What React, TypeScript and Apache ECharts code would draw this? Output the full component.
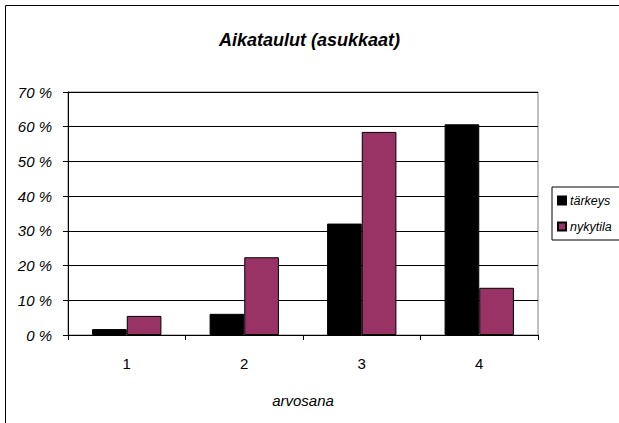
import React, { useEffect, useRef } from "react";
import * as echarts from "echarts";

const title = "Aikataulut (asukkaat)";
const categories = ["1", "2", "3", "4"];
const tarkeys = [1.7, 6.1, 32.1, 60.7];
const nykytila = [5.5, 22.4, 58.5, 13.6];
const seriesNames = ["tärkeys", "nykytila"];
const xName = "arvosana";

const FONT = '"Liberation Sans", Arial, sans-serif';

export default function App() {
  const ref = useRef<HTMLDivElement>(null);
  useEffect(() => {
    if (!ref.current) return;
    const chart = echarts.init(ref.current, null, { renderer: "svg" });
    chart.setOption({
      animation: false,
      backgroundColor: "#ffffff",
      textStyle: { fontFamily: FONT },
      title: {
        text: title,
        left: "center",
        top: 26,
        textStyle: { fontFamily: FONT, fontSize: 18, fontWeight: "bold", fontStyle: "italic", color: "#000" },
      },
      graphic: [
        {
          type: "rect",
          shape: { x: 5.5, y: 5.5, width: 700, height: 600 },
          style: { fill: "none", stroke: "#000", lineWidth: 1 },
          silent: true,
          z: -1,
        },
      ],
      legend: {
        orient: "vertical",
        left: 552,
        top: 187,
        padding: [7, 20, 7, 5],
        borderColor: "#000",
        borderWidth: 1,
        itemWidth: 8,
        itemHeight: 8,
        itemGap: 13,
        icon: "rect",
        textStyle: { fontFamily: FONT, fontSize: 12.5, fontStyle: "italic", color: "#000", padding: [0, 0, 0, -1] },
        data: seriesNames,
      },
      grid: {
        left: 68,
        top: 92,
        right: 81,
        bottom: 88,
        show: true,
        borderColor: "#808080",
        borderWidth: 1,
      },
      xAxis: {
        type: "category",
        data: categories,
        boundaryGap: true,
        name: xName,
        nameLocation: "middle",
        nameGap: 58,
        nameTextStyle: { fontFamily: FONT, fontSize: 15, fontStyle: "italic", color: "#000" },
        axisLine: { show: true, lineStyle: { color: "#000", width: 1 } },
        axisTick: { show: true, length: 5, alignWithLabel: false, lineStyle: { color: "#000" } },
        axisLabel: { fontFamily: FONT, fontSize: 15, color: "#000", margin: 21 },
        splitLine: { show: false },
      },
      yAxis: {
        type: "value",
        min: 0,
        max: 70,
        interval: 10,
        axisLine: { show: true, lineStyle: { color: "#000", width: 1 } },
        axisTick: { show: true, length: 5, lineStyle: { color: "#000" } },
        axisLabel: {
          fontFamily: FONT,
          fontSize: 15,
          fontStyle: "italic",
          color: "#000",
          margin: 16,
          formatter: (v: number) => `${v} %`,
        },
        splitLine: { show: true, lineStyle: { color: "#000", width: 1 } },
      },
      series: [
        {
          name: seriesNames[0],
          type: "bar",
          data: tarkeys,
          barGap: "0%",
          barCategoryGap: "41%",
          itemStyle: { color: "#000000", borderColor: "#000", borderWidth: 1 },
        },
        {
          name: seriesNames[1],
          type: "bar",
          data: nykytila,
          barGap: "0%",
          barCategoryGap: "41%",
          itemStyle: { color: "#993366", borderColor: "#000", borderWidth: 1 },
        },
      ],
    });
    return () => chart.dispose();
  }, []);
  return (
    <div
      ref={ref}
      style={{ position: "fixed", left: 0, top: 0, width: 619, height: 423 }}
    />
  );
}
